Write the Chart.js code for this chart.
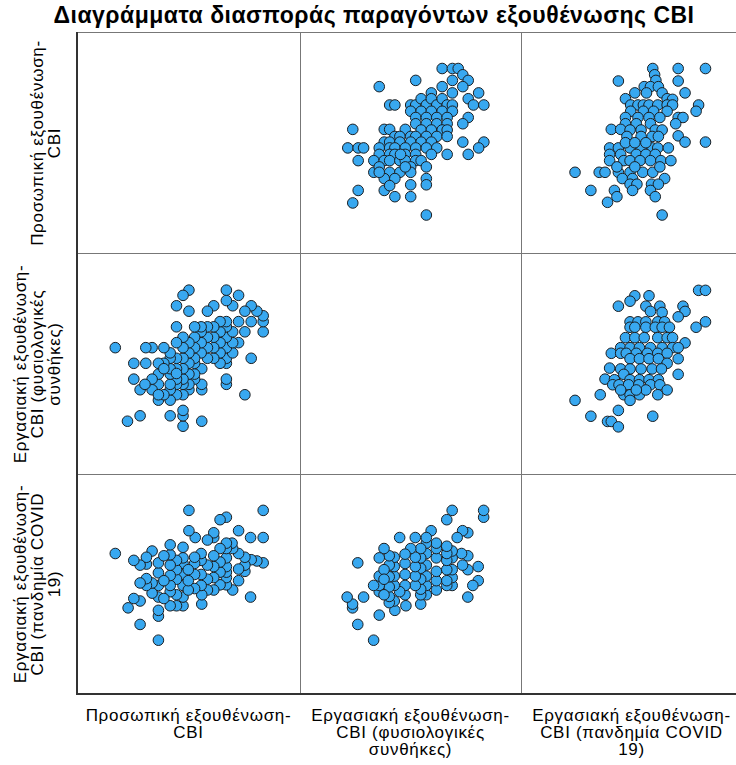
<!DOCTYPE html>
<html>
<head>
<meta charset="utf-8">
<script src="https://cdn.jsdelivr.net/npm/chart.js@4"></script>
<style>
body { margin: 0; background: #fff; width: 736px; height: 765px; overflow: hidden; position: relative; font-family: "Liberation Sans", Arial, sans-serif; color: #000; }
#title { position: absolute; left: 0; width: 748px; top: 2px; text-align: center; font-weight: bold; font-size: 23px; letter-spacing: 0.5px; white-space: nowrap; }
.panel { position: absolute; }
.line { position: absolute; }
.rowlab { position: absolute; width: 221px; height: 62px; display: flex; flex-direction: column; justify-content: flex-end; align-items: center; transform: rotate(-90deg); font-size: 17px; letter-spacing: 0.7px; line-height: 17px; white-space: nowrap; }
.collab { position: absolute; top: 707px; text-align: center; font-size: 17px; letter-spacing: 0.7px; line-height: 17px; white-space: nowrap; }
</style>
</head>
<body>
<div id="title">Διαγράμματα διασποράς παραγόντων εξουθένωσης CBI</div>
<script>
// variable labels (rows = columns order)
const varLabels = [
    ['Προσωπική εξουθένωση-', 'CBI'],
    ['Εργασιακή εξουθένωση-', 'CBI (φυσιολογικές', 'συνθήκες)'],
    ['Εργασιακή εξουθένωση-', 'CBI (πανδημία COVID', '19)']
];

// personal (A) vs work-normal (B)
const abPhysio = [65.2,70.1,72.9,75.1,77.7,70.1,65.2,75.1,35.0,52.5,
    82.7,70.1,60.0,77.7,80.2,85.2,40.0,42.5,50.1,52.5,
    55.1,57.6,60.0,62.6,65.2,67.6,70.1,50.1,55.1,60.0,
    65.2,70.1,52.5,57.6,62.6,67.6,77.7,75.1,52.5,57.6,
    62.6,67.6,55.1,60.0,65.2,67.6,22.3,37.4,40.0,47.5,
    42.5,44.9,50.1,52.5,57.6,62.6,67.6,75.1,85.2,82.7,
    77.7,37.4,40.0,44.9,50.1,55.1,60.0,19.9,24.9,27.5,
    35.0,40.0,42.5,47.5,52.5,57.6,62.6,67.6,60.0,35.0,
    40.0,42.5,47.5,52.5,24.9,32.4,37.4,40.0,44.9,47.5,
    52.5,55.1,32.4,35.0,40.0,44.9,50.1,57.6,37.4,42.5,
    50.1,57.6,37.4,40.0,42.5,50.1,50.1,57.6,24.9,22.3,
    57.6,35.0,47.5,45.2];
const abPersonal = [85.5,85.5,85.5,82.5,79.8,79.8,76.8,76.8,76.8,79.8,
    73.8,73.8,73.8,71.0,68.0,68.0,68.0,68.0,68.0,68.0,
    71.0,68.0,71.0,68.0,71.0,68.0,68.0,65.0,65.0,65.0,
    65.0,65.0,62.0,62.0,62.0,62.0,62.0,59.0,59.0,59.0,
    59.0,59.0,56.0,56.0,56.0,56.0,56.3,56.3,56.3,56.3,
    52.9,52.9,52.9,52.9,52.9,52.9,52.9,50.2,50.2,47.4,
    44.3,50.2,50.2,50.2,50.2,50.2,50.2,47.4,47.4,47.4,
    47.4,47.4,47.4,47.4,47.4,47.4,47.4,44.3,44.3,44.3,
    44.3,44.3,44.3,44.3,41.3,41.3,41.3,41.3,41.3,41.3,
    41.3,41.3,35.7,38.3,35.7,35.7,38.3,38.3,32.7,32.7,
    35.7,32.7,27.0,29.3,24.0,29.7,24.0,29.7,27.0,21.0,
    15.2,35.7,38.3,44.3];

// personal (A) vs work-covid (C)
const acCovid = [60.2,72.4,85.5,61.1,61.7,43.7,72.4,56.1,59.1,62.9,
    51.6,57.2,64.7,75.7,47.1,67.1,69.7,49.6,53.1,55.7,
    58.4,62.6,67.1,69.7,82.2,81.0,49.6,55.7,60.6,67.1,
    47.1,53.1,58.4,63.6,72.4,74.7,71.2,47.1,52.3,59.1,
    40.3,44.8,49.3,54.6,61.4,64.7,72.4,75.7,85.5,47.8,
    54.6,59.9,62.9,39.5,43.7,49.3,54.6,59.9,62.6,67.7,
    39.5,44.8,52.3,56.9,61.4,39.5,46.3,49.3,54.1,59.1,
    64.1,68.9,22.9,34.5,37.3,43.7,49.3,55.4,60.2,43.0,
    51.6,63.6,45.6,50.5,65.9,49.3,52.6,59.6,62.9,30.5,
    41.8,50.5,59.1,43.0,61.4,38.5,64.7,47.1,51.6,56.9];
const acPersonal = [85.5,85.5,85.5,82.5,79.8,79.5,79.5,76.8,76.8,76.8,
    73.8,73.8,73.8,73.8,71.0,71.0,70.7,68.0,68.0,68.0,
    68.0,68.0,68.0,68.0,68.0,65.0,65.0,65.0,65.0,65.0,
    62.0,62.0,62.0,62.0,62.0,62.0,59.0,59.0,59.0,59.0,
    56.3,56.3,56.0,56.0,56.0,56.0,53.2,50.2,50.2,52.9,
    52.9,52.9,52.9,47.4,47.4,47.4,47.4,47.4,47.4,47.4,
    44.3,44.3,44.3,44.3,44.3,41.3,41.3,41.3,41.3,41.3,
    41.3,41.3,35.7,35.7,35.7,35.7,35.7,35.7,35.7,38.3,
    38.3,38.3,32.7,32.7,32.7,30.0,30.0,30.0,30.0,27.0,
    27.0,27.0,27.0,24.0,24.0,21.3,15.2,49.9,49.9,49.9];

// work-normal (B) vs work-covid (C)
const bcCovid = [82.2,85.5,51.6,58.4,49.3,43.7,56.9,63.6,74.7,59.1,
    64.7,75.7,72.4,85.5,81.0,49.3,53.1,56.9,62.6,65.9,
    49.3,51.6,56.9,61.4,64.7,68.2,47.1,51.6,56.1,62.6,
    67.1,69.7,75.7,44.8,49.3,53.8,59.1,64.7,69.7,72.4,
    40.3,44.8,47.5,52.3,57.6,62.6,67.1,49.3,53.8,58.4,
    62.9,72.4,67.1,39.5,44.8,49.3,54.6,59.9,64.4,72.4,
    37.3,41.8,46.3,49.3,53.8,58.4,62.9,41.0,44.0,48.6,
    53.5,59.1,63.6,67.1,35.0,46.3,49.3,53.8,62.6,22.9,
    49.3,43.7,30.5,38.5,40.3,43.7,60.2,56.9,52.3,44.8];
const bcPhysio = [85.1,85.1,82.5,82.5,79.9,77.5,77.5,77.5,77.5,75.0,
    74.5,75.0,72.4,70.0,67.4,70.0,70.0,70.0,70.0,70.0,
    67.4,67.4,67.4,67.4,67.4,67.4,62.4,62.4,62.4,62.4,
    62.4,62.4,59.9,57.6,57.6,57.6,57.6,57.6,57.6,57.6,
    54.9,54.9,54.9,54.9,54.9,54.9,54.9,52.3,52.3,52.3,
    52.3,52.3,50.1,47.8,47.4,47.4,47.4,47.4,47.4,44.8,
    42.5,42.2,44.8,42.2,42.2,42.2,42.2,39.8,39.8,39.8,
    39.8,39.8,39.8,37.3,35.0,35.0,35.0,35.0,35.0,32.3,
    32.3,27.5,24.7,22.2,22.2,19.6,24.7,37.3,37.3,37.3];

const pairData = [
    { vars: [0, 1], values: [abPersonal, abPhysio] },
    { vars: [0, 2], values: [acPersonal, acCovid] },
    { vars: [1, 2], values: [bcPhysio, bcCovid] }
];

function pairPoints(xi, yi) {
    const p = pairData.find(d => d.vars.includes(xi) && d.vars.includes(yi));
    const xs = p.values[p.vars.indexOf(xi)];
    const ys = p.values[p.vars.indexOf(yi)];
    return xs.map((v, i) => ({ x: v, y: ys[i] }));
}

// grid layout
const colX = [77, 300, 521], colW = [223, 221, 221];
const rowY = [32, 253, 474], rowH = [221, 221, 220];
const gridRight = 742, gridBottom = 694;

function addLine(left, top, w, h, color) {
    const d = document.createElement('div');
    d.className = 'line';
    d.style.cssText = `left:${left}px;top:${top}px;width:${w}px;height:${h}px;background:${color}`;
    document.body.appendChild(d);
}

for (let r = 0; r < 3; r++) {
    for (let c = 0; c < 3; c++) {
        if (r === c) continue;
        const wrap = document.createElement('div');
        wrap.className = 'panel';
        wrap.style.left = colX[c] + 'px';
        wrap.style.top = rowY[r] + 'px';
        const cv = document.createElement('canvas');
        cv.width = colW[c];
        cv.height = rowH[r];
        wrap.appendChild(cv);
        document.body.appendChild(wrap);

        new Chart(cv.getContext('2d'), {
            type: 'scatter',
            data: {
                datasets: [{
                    data: pairPoints(c, r),
                    backgroundColor: '#38a8f0',
                    borderColor: '#1a1e22',
                    borderWidth: 1,
                    pointRadius: 5.3,
                    pointHoverRadius: 5.3
                }]
            },
            options: {
                responsive: false,
                animation: false,
                layout: { padding: 0 },
                plugins: { legend: { display: false }, tooltip: { enabled: false } },
                scales: {
                    x: { type: 'linear', min: 0, max: 100, display: false },
                    y: { type: 'linear', min: 0, max: 100, display: false }
                }
            }
        });
    }
}

// frame lines
addLine(colX[0], rowY[0], gridRight - colX[0], 1, '#777');
addLine(colX[0], rowY[1], gridRight - colX[0], 1, '#777');
addLine(colX[0], rowY[2], gridRight - colX[0], 1, '#777');
addLine(colX[1], rowY[0], 1, gridBottom - rowY[0], '#777');
addLine(colX[2], rowY[0], 1, gridBottom - rowY[0], '#777');
addLine(colX[0] - 1, rowY[0], 2, gridBottom - rowY[0] + 1, '#333');
addLine(colX[0] - 1, gridBottom - 1, gridRight - colX[0] + 1, 2, '#333');

// axis labels
varLabels.forEach((lines, i) => {
    const rl = document.createElement('div');
    rl.className = 'rowlab';
    const cy = rowY[i] + rowH[i] / 2;
    rl.style.left = (31 - 110.5) + 'px';
    rl.style.top = (cy - 31) + 'px';
    rl.innerHTML = lines.map(t => `<div>${t}</div>`).join('');
    document.body.appendChild(rl);

    const cl = document.createElement('div');
    cl.className = 'collab';
    cl.style.left = colX[i] + 'px';
    cl.style.width = colW[i] + 'px';
    cl.innerHTML = lines.join('<br>');
    document.body.appendChild(cl);
});
</script>
</body>
</html>
